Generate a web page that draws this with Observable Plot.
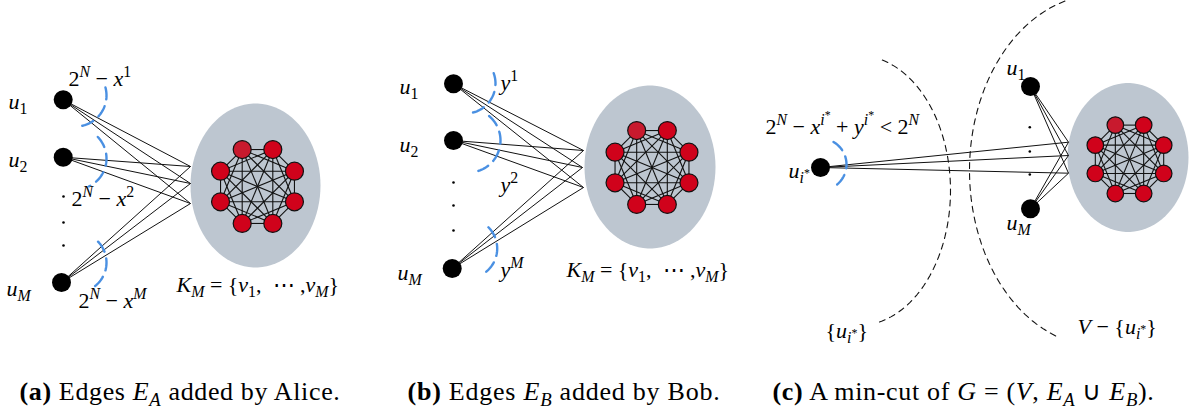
<!DOCTYPE html>
<html>
<head>
<meta charset="utf-8">
<script src="https://cdn.jsdelivr.net/npm/d3@7"></script>
<script src="https://cdn.jsdelivr.net/npm/@observablehq/plot@0.6"></script>
<style>
  html, body { margin: 0; padding: 0; background: #ffffff; }
  #chart svg { display: block; }
</style>
</head>
<body>
<div id="chart"></div>
<script>
// ---------- data (diagram layout) ----------
const panels = ["a", "b", "c"];

// left-side vertices u_i
const uNodes = [
  {panel: "a", id: "u1", x: 62.7, y: 99.3},
  {panel: "a", id: "u2", x: 62.7, y: 156.7},
  {panel: "a", id: "uM", x: 61, y: 282},
  {panel: "b", id: "u1", x: 453, y: 83.3},
  {panel: "b", id: "u2", x: 453, y: 140},
  {panel: "b", id: "uM", x: 451.7, y: 268},
  {panel: "c", id: "ui", x: 820, y: 167},
  {panel: "c", id: "u1", x: 1030, y: 86},
  {panel: "c", id: "uM", x: 1030, y: 208.3}
];

// ellipsis dots between u_2 and u_M
const ellipsisDots = [
  {panel: "a", x: 63, y: 196}, {panel: "a", x: 63, y: 222}, {panel: "a", x: 63, y: 245},
  {panel: "b", x: 453, y: 182}, {panel: "b", x: 453, y: 205}, {panel: "b", x: 453, y: 230},
  {panel: "c", x: 1029.3, y: 126.7}, {panel: "c", x: 1029.3, y: 151}, {panel: "c", x: 1029.3, y: 174}
];

// points where the u-edges meet the K_M cloud
const hubs = [
  {panel: "a", x: 190, y: 166}, {panel: "a", x: 190, y: 183}, {panel: "a", x: 190, y: 203},
  {panel: "b", x: 583, y: 150}, {panel: "b", x: 582, y: 167}, {panel: "b", x: 583, y: 187},
  {panel: "c", x: 1068, y: 141.7}, {panel: "c", x: 1068, y: 155}, {panel: "c", x: 1068, y: 172.7}
];

// grey clouds around K_M
const clouds = [
  {panel: "a", cx: 255, cy: 185, rx: 65, ry: 82},
  {panel: "b", cx: 649.5, cy: 166.5, rx: 65.5, ry: 81.5},
  {panel: "c", cx: 1127.5, cy: 157, rx: 60.5, ry: 74.5}
];

// complete graphs K_8 (centre, ring radius, vertex radius)
const cliques = [
  {panel: "a", cx: 257, cy: 186, ring: 40, node: 9},
  {panel: "b", cx: 651.5, cy: 167, ring: 40, node: 9},
  {panel: "c", cx: 1129, cy: 158.8, ring: 37, node: 8.3}
];
const cliqueAngles = [-112.5, -67.5, -22.5, 22.5, 67.5, 112.5, 157.5, 202.5];

// blue dashed cut arcs
const cutArcs = [
  {id: "a1", cx: 75, cy: 95, r: 31, a0: -15, a1: 88},
  {id: "a2", cx: 75, cy: 158, r: 31, a0: -44, a1: 64},
  {id: "aM", cx: 76, cy: 262, r: 30, a0: -44, a1: 60},
  {id: "b1", cx: 465, cy: 83, r: 30, a0: -20, a1: 85},
  {id: "b2", cx: 468, cy: 140, r: 32, a0: -50, a1: 72},
  {id: "bM", cx: 466.7, cy: 248, r: 30, a0: -45, a1: 58},
  {id: "ci", cx: 820, cy: 164, r: 26, a0: -60, a1: 65}
];

// black dashed partition curves in (c)
const partitionCurves = [
  {id: "left", cx: 858, cy: 190, rx: 92, ry: 135, a0: -75, a1: 77},
  {id: "right", cx: 1100, cy: 170, rx: 131, ry: 176, a0: 110, a1: 262}
];

// text labels
const vertexLabels = [
  {t: "$u_{1}$", x: 8, y: 101}, {t: "$u_{2}$", x: 8, y: 159}, {t: "$u_{M}$", x: 6, y: 288},
  {t: "$u_{1}$", x: 399, y: 86}, {t: "$u_{2}$", x: 399, y: 144}, {t: "$u_{M}$", x: 397, y: 272},
  {t: "$u_{1}$", x: 1006, y: 67}, {t: "$u_{M}$", x: 1006, y: 222}, {t: "$u_{i^{*}}$", x: 788, y: 170}
];
const weightLabels = [
  {t: "$2^{N} − x^{1}$", x: 68, y: 78},
  {t: "$2^{N} − x^{2}$", x: 71, y: 198},
  {t: "$2^{N} − x^{M}$", x: 78, y: 300},
  {t: "$y^{1}$", x: 500, y: 82},
  {t: "$y^{2}$", x: 500, y: 184},
  {t: "$y^{M}$", x: 500, y: 269},
  {t: "$2^{N} − x^{i^{*}} + y^{i^{*}} < 2^{N}$", x: 765, y: 126},
  {t: "${u_{i^{*}}}$", x: 825, y: 330},
  {t: "$V − {u_{i^{*}}}$", x: 1077, y: 326}
];
const setLabels = [
  {t: "$K_{M} = {v_{1},  ⋯ ,v_{M}}$", x: 176, y: 284},
  {t: "$K_{M} = {v_{1},  ⋯ ,v_{M}}$", x: 566, y: 269}
];
const captions = [
  {t: "#(a)# Edges $E_{A}$ added by Alice.", x: 19, y: 391, w: 321},
  {t: "#(b)# Edges $E_{B}$ added by Bob.", x: 407, y: 391, w: 313},
  {t: "#(c)# A min-cut of $G = (V, E_{A} ∪ E_{B})$.", x: 772, y: 391, w: 382}
];

// ---------- derived geometry ----------
const rad = Math.PI / 180;
const sweep = (a0, a1, n = 60) => d3.range(n + 1).map(i => a0 + (a1 - a0) * i / n);

const cloudPts = clouds.flatMap(c => sweep(0, 360, 90).map(a => ({
  id: c.panel, x: c.cx + c.rx * Math.cos(a * rad), y: c.cy + c.ry * Math.sin(a * rad)
})));

const cliqueNodes = cliques.flatMap(c => cliqueAngles.map((a, k) => ({
  panel: c.panel, k, r: c.node,
  x: c.cx + c.ring * Math.cos(a * rad), y: c.cy + c.ring * Math.sin(a * rad)
})));
const cliqueEdges = [];
for (const p of panels) {
  const ns = cliqueNodes.filter(d => d.panel === p);
  for (let i = 0; i < ns.length; i++)
    for (let j = i + 1; j < ns.length; j++)
      cliqueEdges.push({x1: ns[i].x, y1: ns[i].y, x2: ns[j].x, y2: ns[j].y});
}

const hubEdges = uNodes.flatMap(u => hubs.filter(h => h.panel === u.panel)
  .map(h => ({x1: u.x, y1: u.y, x2: h.x, y2: h.y})));

const arcPts = cutArcs.flatMap(c => sweep(c.a0, c.a1, 40).map(a => ({
  id: c.id, x: c.cx + c.r * Math.cos(a * rad), y: c.cy + c.r * Math.sin(a * rad)
})));
const curvePts = partitionCurves.flatMap(c => sweep(c.a0, c.a1, 80).map(a => ({
  id: c.id, x: c.cx + c.rx * Math.cos(a * rad), y: c.cy + c.ry * Math.sin(a * rad)
})));

// ---------- plot ----------
const W = 1192, H = 412;
const serif = "Liberation Serif";

const svg = Plot.plot({
  width: W, height: H, margin: 0,
  style: {background: "#ffffff", color: "#000"},
  x: {domain: [0, W], range: [0, W], axis: null},
  y: {domain: [0, H], range: [0, H], axis: null},
  r: {type: "identity"},
  marks: [
    Plot.line(cloudPts, {x: "x", y: "y", z: "id", fill: "#bdc6d0", stroke: "none", curve: "linear-closed"}),
    Plot.line(curvePts, {x: "x", y: "y", z: "id", stroke: "#111", strokeWidth: 1.1, strokeDasharray: "6,5", curve: "linear"}),
    Plot.link(cliqueEdges, {x1: "x1", y1: "y1", x2: "x2", y2: "y2", stroke: "#111", strokeWidth: 1.1}),
    Plot.link(hubEdges, {x1: "x1", y1: "y1", x2: "x2", y2: "y2", stroke: "#111", strokeWidth: 1}),
    Plot.line(arcPts, {x: "x", y: "y", z: "id", stroke: "#4a90e2", strokeWidth: 2.4, strokeDasharray: "12,7", curve: "linear"}),
    Plot.dot(cliqueNodes, {x: "x", y: "y", r: "r", fill: d => d.k === 0 ? "#c81a2e" : "#d0021b", stroke: "#111", strokeWidth: 1.2}),
    Plot.dot(uNodes, {x: "x", y: "y", r: 9.5, fill: "#000", stroke: "none"}),
    Plot.dot(ellipsisDots, {x: "x", y: "y", r: 1.3, fill: "#000", stroke: "none"}),
    Plot.text(vertexLabels, {x: "x", y: "y", text: "t", textAnchor: "start", fontSize: 22, fontFamily: serif, fill: "#000"}),
    Plot.text(weightLabels, {x: "x", y: "y", text: "t", textAnchor: "start", fontSize: 22, fontFamily: serif, fill: "#000"}),
    Plot.text(setLabels, {x: "x", y: "y", text: "t", textAnchor: "start", fontSize: 22, fontFamily: serif, fill: "#000"}),
    Plot.text(captions, {x: "x", y: "y", text: "t", textAnchor: "start", fontSize: 26, fontFamily: serif, fill: "#000"})
  ]
});
document.getElementById("chart").appendChild(svg);

// ---------- rich text: $math$, _{sub}, ^{sup}, #bold# ----------
function parseRich(str, size) {
  const runs = [];
  function walk(s, shift, sz, depthLevel, math, bold) {
    let i = 0;
    while (i < s.length) {
      const c = s[i];
      if (c === "$") { math = !math; i++; continue; }
      if (c === "#") { bold = !bold; i++; continue; }
      if (math && (c === "_" || c === "^")) {
        let j = i + 1, content;
        if (s[j] === "{") {
          let depth = 0, k = j;
          for (; k < s.length; k++) {
            if (s[k] === "{") depth++;
            else if (s[k] === "}") { depth--; if (depth === 0) break; }
          }
          content = s.slice(j + 1, k); i = k + 1;
        } else { content = s[j]; i = j + 1; }
        const nshift = shift + (c === "_" ? 0.25 * sz : -0.38 * sz);
        const nsz = sz * (depthLevel === 0 ? 0.72 : 0.75);
        walk(content, nshift, nsz, depthLevel + 1, true, bold);
        continue;
      }
      runs.push({t: c, shift, sz, italic: math && /[A-Za-z]/.test(c), bold});
      i++;
    }
  }
  walk(str, 0, size, 0, false, false);
  const merged = [];
  for (const r of runs) {
    const last = merged[merged.length - 1];
    if (last && last.shift === r.shift && last.sz === r.sz && last.italic === r.italic && last.bold === r.bold) last.t += r.t;
    else merged.push({...r});
  }
  return merged;
}

const NS = "http://www.w3.org/2000/svg";
d3.select(svg).selectAll("text").each(function() {
  const el = this;
  const src = el.textContent;
  if (!/[$#_^]/.test(src)) return;
  const size = parseFloat(el.parentNode.getAttribute("font-size")) || 20;
  const runs = parseRich(src, size);
  el.textContent = "";
  el.setAttribute("font-family", serif);
  let prev = 0;
  for (const r of runs) {
    const ts = document.createElementNS(NS, "tspan");
    ts.setAttribute("font-family", serif);
    ts.setAttribute("font-size", r.sz.toFixed(2));
    if (r.italic) ts.setAttribute("font-style", "italic");
    if (r.bold) ts.setAttribute("font-weight", "bold");
    const dy = r.shift - prev;
    if (Math.abs(dy) > 1e-6) ts.setAttribute("dy", dy.toFixed(2));
    prev = r.shift;
    ts.textContent = r.t;
    el.appendChild(ts);
  }
});

// fit caption widths to the reference by letter spacing
const textGroups = d3.select(svg).selectAll("g[aria-label='text']").nodes();
d3.select(textGroups[textGroups.length - 1]).selectAll("text").each(function(_, i) {
  const target = captions[i].w;
  const w = this.getComputedTextLength();
  const n = this.textContent.length;
  if (n > 1 && w > 0) this.setAttribute("letter-spacing", ((target - w) / n).toFixed(3));
});
</script>
</body>
</html>
